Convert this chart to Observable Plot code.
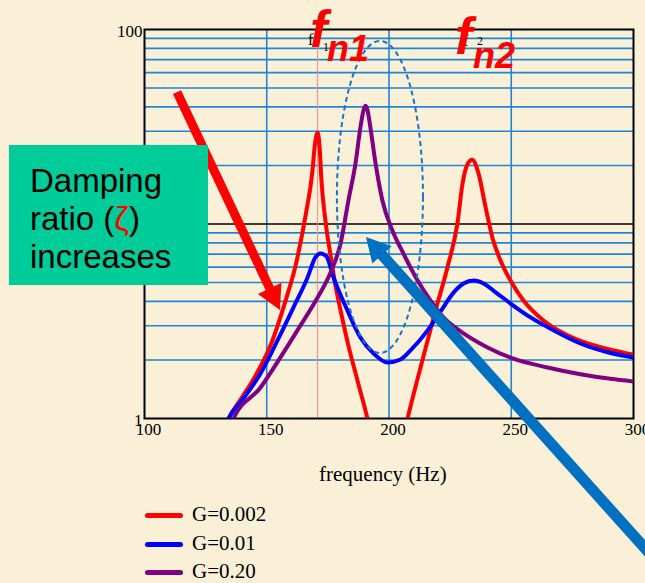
<!DOCTYPE html>
<html><head><meta charset="utf-8">
<script src="https://cdn.jsdelivr.net/npm/d3@7"></script>
<script src="https://cdn.jsdelivr.net/npm/@observablehq/plot@0.6"></script>
<style>
html,body{margin:0;padding:0;background:#faf0d8;}
#wrap{position:relative;width:645px;height:583px;overflow:hidden;background:#faf0d8;}
#wrap svg{position:absolute;left:0;top:0;}
.abs{position:absolute;white-space:nowrap;}
.serif{font-family:"Liberation Serif","Times New Roman",serif;color:#000;}
.big{font-family:"Liberation Sans",Arial,sans-serif;font-weight:bold;font-style:italic;color:#ff0000;line-height:1;}
#box{position:absolute;left:9px;top:145px;width:199px;height:140px;background:#00cc99;}
#box div{position:absolute;left:21px;font-family:"Liberation Sans",Arial,sans-serif;font-size:33px;line-height:1;color:#000;}
</style></head>
<body><div id="wrap"></div>
<script>
// ---- data ----
const seriesNames = ["G=0.002", "G=0.01", "G=0.20"];
const seriesColors = ["#ff0000", "#0000ff", "#800080"];

const redFreq = [132.3,134.4,139.3,145.4,151.5,157.7,161.8,165.9,168.7,169.6,170.8,171.7,172.3,174.0,176.1,178.1,180.2,183.4,187.1,191.2,193.3,199.0,205.5,207.6,212.9,219.0,223.9,228.0,230.1,232.2,234.0,236.6,239.5,242.3,245.6,249.7,255.0,263.2,271.4,281.2,290.6,300];
const redAmp  = [0.85,1.0,1.25,1.66,2.37,4.04,6.12,11.1,18.8,25.0,29.5,24.0,17.3,10.4,6.9,4.83,3.59,2.37,1.57,1.0,0.77,0.40,0.77,1.0,1.83,3.59,5.98,10.1,16.2,20.4,21.4,18.2,12.2,8.5,6.5,5.12,4.04,3.19,2.74,2.43,2.26,2.13];

const blueFreq = [131.9,134.4,141.3,147.4,154.4,160.9,166.7,169.9,172.0,174.4,177.3,183.0,188.3,193.7,199.4,204.7,208.8,215.8,221.1,226.4,230.5,234.6,238.7,242.7,249.7,257.9,267.3,278.3,289.4,300];
const blueAmp  = [0.85,1.0,1.31,1.70,2.52,3.72,5.31,6.73,7.06,6.81,5.31,3.59,2.61,2.16,1.94,2.01,2.24,2.84,3.55,4.44,4.94,5.12,4.94,4.55,3.90,3.31,2.84,2.43,2.19,2.06];

const purpleFreq = [134.4,136.4,147.4,155.6,163.8,170.8,176.1,180.2,183.4,186.3,188.3,189.6,190.4,191.2,192.4,194.5,197.3,201.4,205.9,211.7,217.0,222.3,230.5,240.3,250.9,264.8,278.3,290.6,300];
const purpleAmp  = [0.87,1.0,1.44,2.06,3.01,4.19,5.63,7.94,13.2,20.5,31.3,38.5,40.5,38.5,31.3,20.5,13.2,9.26,7.05,5.12,4.04,3.31,2.74,2.32,2.03,1.83,1.69,1.60,1.55];

const xTicks = [100,150,200,250,300];
const xGrid = [150,200,250];
const yTicks = [1,10,100];
const yMinorGrid = [2,3,4,5,6,7,8,9,20,30,40,50,60,70,80,90];
const fn1 = 170.8;

// annotations (data coords)
const redArrow = {f1:113.5, a1:47.4, f2:155.6, a2:3.59};
const blueArrow = {f1:312, a1:0.17, f2:190.8, a2:8.52};
const ellipseBox = {f1:178.9, f2:214.1, a1:2.16, a2:86.8};

// ---- build ----
const mk = (fs, as) => fs.map((f, i) => ({f, a: as[i]}));
const series = [mk(redFreq, redAmp), mk(blueFreq, blueAmp), mk(purpleFreq, purpleAmp)];

const gridColor = "#1f86d6";
const serif = "Liberation Serif, Times New Roman, serif";

const plot = Plot.plot({
  width: 645, height: 583,
  marginLeft: 144, marginRight: 12, marginTop: 29, marginBottom: 165,
  style: {background: "transparent"},
  x: {domain: [100, 300], axis: null},
  y: {type: "log", domain: [1, 100], axis: null},
  marks: [
    Plot.ruleY(yMinorGrid, {y: d => d, stroke: gridColor, strokeWidth: 1.6}),
    Plot.ruleX(xGrid, {x: d => d, stroke: gridColor, strokeWidth: 1.6}),
    Plot.ruleY([10], {y: d => d, stroke: "#000", strokeWidth: 1.3}),
    Plot.ruleX([fn1], {x: d => d, stroke: "#ff8c8c", strokeWidth: 1}),
    Plot.frame({stroke: "#000", strokeWidth: 2}),
    ...series.map((s, i) => Plot.line(s, {x: "f", y: "a", stroke: seriesColors[i], strokeWidth: 4, curve: "monotone-x", clip: true})),
    Plot.text(xTicks, {x: d => d, frameAnchor: "bottom", dy: 16, dx: 4, text: d => String(d), fontSize: 17, fontFamily: serif, fill: "#000"}),
    Plot.text(yTicks, {y: d => d, frameAnchor: "left", dx: -2, dy: 2, textAnchor: "end", text: d => String(d), fontSize: 17, fontFamily: serif, fill: "#000"})
  ]
});

const wrap = document.getElementById("wrap");
wrap.appendChild(plot);

const sx = plot.scale("x"), sy = plot.scale("y");
const X = v => sx.apply(v), Y = v => sy.apply(v);
const svg = d3.select(plot);

// dashed ellipse
const ex1 = X(ellipseBox.f1), ex2 = X(ellipseBox.f2), ey1 = Y(ellipseBox.a2), ey2 = Y(ellipseBox.a1);
svg.append("ellipse")
  .attr("cx", (ex1 + ex2) / 2).attr("cy", (ey1 + ey2) / 2)
  .attr("rx", (ex2 - ex1) / 2).attr("ry", (ey2 - ey1) / 2)
  .attr("fill", "none").attr("stroke", "#1a73c4").attr("stroke-width", 2)
  .attr("stroke-dasharray", "5,3.5");

function arrow(a, color, w, headLen, headHalf) {
  const x1 = X(a.f1), y1 = Y(a.a1), x2 = X(a.f2), y2 = Y(a.a2);
  const dx = x2 - x1, dy = y2 - y1, L = Math.hypot(dx, dy), ux = dx / L, uy = dy / L;
  const bx = x2 - ux * headLen, by = y2 - uy * headLen;
  svg.append("line").attr("x1", x1).attr("y1", y1).attr("x2", bx + ux * 2).attr("y2", by + uy * 2)
    .attr("stroke", color).attr("stroke-width", w);
  svg.append("polygon")
    .attr("points", [[x2, y2], [bx - uy * headHalf, by + ux * headHalf], [bx + uy * headHalf, by - ux * headHalf]].map(p => p.join(",")).join(" "))
    .attr("fill", color);
}
arrow(redArrow, "#ff0000", 9, 24, 13);
arrow(blueArrow, "#0070c0", 11, 24, 13);

// ---- HTML overlays ----
function addDiv(html, cls, css) {
  const d = document.createElement("div");
  d.className = "abs " + cls;
  d.innerHTML = html;
  Object.assign(d.style, css);
  wrap.appendChild(d);
  return d;
}
// small f1 / f2 labels
addDiv("f", "serif", {left: "308px", top: "31px", fontSize: "16px"});
addDiv("1", "serif", {left: "323px", top: "40px", fontSize: "12px"});
addDiv("f", "serif", {left: "463px", top: "32px", fontSize: "16px"});
addDiv("2", "serif", {left: "477px", top: "34px", fontSize: "12px"});
// big labels
addDiv("f", "big", {left: "310px", top: "3px", fontSize: "52px"});
addDiv("n1", "big", {left: "327px", top: "31px", fontSize: "36px"});
addDiv("f", "big", {left: "455px", top: "10px", fontSize: "52px"});
addDiv("n2", "big", {left: "473px", top: "38px", fontSize: "36px"});

// axis label
addDiv("frequency (Hz)", "serif", {left: "319px", top: "462px", fontSize: "21px"});

// legend
seriesNames.forEach((name, i) => {
  const ly = [515, 544, 572][i];
  const ln = document.createElement("div");
  ln.className = "abs";
  Object.assign(ln.style, {left: "145px", top: (ly - 2.5) + "px", width: "38px", height: "5px", background: seriesColors[i], borderRadius: "3px"});
  wrap.appendChild(ln);
  addDiv(name, "serif", {left: "192px", top: (ly - 13) + "px", fontSize: "21px"});
});

// green box
const box = document.createElement("div");
box.id = "box";
box.innerHTML = '<div style="top:19px">Damping</div><div style="top:57px">ratio (<span style="color:#ff0000">ζ</span>)</div><div style="top:95px">increases</div>';
wrap.appendChild(box);
</script>
</body></html>
